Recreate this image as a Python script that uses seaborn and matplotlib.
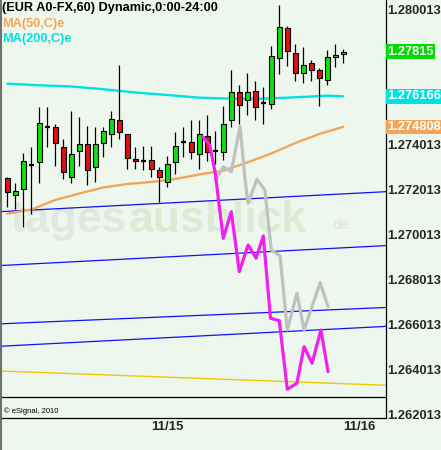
import numpy as np
import pandas as pd
import matplotlib
matplotlib.use("Agg")
import matplotlib.pyplot as plt
import matplotlib.transforms as mtransforms
from matplotlib.lines import Line2D
import seaborn as sns

# ------------------------------------------------------------------ data
hours = list(range(43))
opens = [1.272515, 1.271785, 1.272025, 1.273108, 1.273228, 1.274813, 1.274786, 1.273922,
         1.272587, 1.273718, 1.274029, 1.273005, 1.274074, 1.274475, 1.275098, 1.274475,
         1.273361, 1.273272, 1.273317, 1.272871, 1.272364, 1.273254, 1.274118, 1.274110,
         1.273588, 1.274390, 1.273740, 1.273686, 1.275098, 1.276345, 1.275989, 1.276403,
         1.275855, 1.275811, 1.277859, 1.279195, 1.278082, 1.277191, 1.277650, 1.277324,
         1.276879, 1.277903, 1.278037]
highs = [1.272586, 1.272319, 1.273629, 1.273896, 1.275677, 1.275677, 1.274933, 1.274279,
         1.275512, 1.275232, 1.274844, 1.274813, 1.274786, 1.275512, 1.277561, 1.274488,
         1.273896, 1.273954, 1.273954, 1.273005, 1.273508, 1.274590, 1.274813, 1.275111,
         1.275111, 1.275321, 1.274608, 1.275735, 1.277338, 1.276670, 1.277204, 1.276848,
         1.276594, 1.278407, 1.280232, 1.279297, 1.278496, 1.278375, 1.277783, 1.277414,
         1.278228, 1.278482, 1.278260]
lows = [1.271251, 1.271162, 1.270360, 1.270926, 1.272293, 1.273896, 1.273063, 1.272471,
        1.272293, 1.273063, 1.272230, 1.272364, 1.273477, 1.273896, 1.274279, 1.272943,
        1.272943, 1.272885, 1.272560, 1.271473, 1.272141, 1.272693, 1.273477, 1.273361,
        1.272943, 1.273299, 1.273130, 1.273330, 1.274786, 1.274947, 1.275347, 1.275098,
        1.274947, 1.275588, 1.277173, 1.277503, 1.276861, 1.276772, 1.276861, 1.275748,
        1.276683, 1.277485, 1.277663]
closes = [1.271892, 1.271937, 1.273272, 1.273108, 1.274964, 1.274813, 1.274074, 1.272783,
          1.273584, 1.274029, 1.272885, 1.274029, 1.274608, 1.275143, 1.274564, 1.273433,
          1.273272, 1.273272, 1.272916, 1.272560, 1.273139, 1.273940, 1.274118, 1.273673,
          1.274475, 1.273669, 1.273740, 1.274924, 1.276345, 1.275766, 1.276345, 1.275704,
          1.275855, 1.277948, 1.279239, 1.278197, 1.277191, 1.277547, 1.277351, 1.276968,
          1.277903, 1.277992, 1.278150]

ma50_x = [0, 3, 6, 9, 12, 15, 18, 21, 24, 27, 30, 33, 36, 39, 42]
ma50_y = [1.270939, 1.271126, 1.271549, 1.271838, 1.272106, 1.272261, 1.272351, 1.272484,
          1.272685, 1.272854, 1.273219, 1.273620, 1.274087, 1.274488, 1.274808]
ma200_x = [0, 4, 8, 12, 16, 20, 24, 28, 32, 36, 40, 42]
ma200_y = [1.276728, 1.276657, 1.276603, 1.276483, 1.276336, 1.276225, 1.276104, 1.276060,
           1.276060, 1.276122, 1.276193, 1.276166]

magenta_x = [24.4, 25.3, 26.0, 26.4, 27.0, 28.0, 29.0, 30.1, 31.1, 32.0, 32.9, 34.0, 35.0,
             36.2, 37.1, 38.1, 39.2, 40.1]
magenta_y = [1.274368, 1.273998, 1.272738, 1.271549, 1.269843, 1.271028, 1.268356, 1.269545,
             1.268953, 1.269946, 1.266281, 1.266174, 1.263119, 1.263387, 1.265016, 1.264277,
             1.265760, 1.263903]
gray_x = [26.0, 27.0, 28.0, 29.1, 29.7, 30.1, 31.2, 32.2, 33.0, 34.1, 35.0, 36.2, 37.1, 39.1, 40.1]
gray_y = [1.272440, 1.273032, 1.272809, 1.274822, 1.272529, 1.271402, 1.272471, 1.271994,
          1.269322, 1.269055, 1.265760, 1.267394, 1.265760, 1.267866, 1.266798]

# trend lines: price at left edge / right edge of plot
blue_left = [1.271028, 1.268628, 1.266032, 1.265034]
blue_right = [1.271919, 1.269518, 1.266762, 1.265920]
yellow_left, yellow_right = 1.263934, 1.263298
black_level = 1.262777

# (1.276013 and 1.278013 are hidden behind the value boxes in the reference)
ytick_values = [1.262013, 1.264013, 1.266013, 1.268013, 1.270013, 1.272013,
                1.274013, 1.280013]
xtick_pos = [18, 42]
xtick_labels = ["11/15", "11/16"]

last_price, ma200_last, ma50_last = 1.27815, 1.276166, 1.274808

# ------------------------------------------------------------------ style
sns.set_style("white")
plt.rcParams['font.family'] = ['Liberation Sans', 'DejaVu Sans']

BG = '#eef7ee'
GREEN = '#10e010'
RED = '#e01010'
ORANGE = '#f2a65c'
CYAN = '#00e2e2'

fig = plt.figure(figsize=(4.41, 4.5), dpi=100, facecolor=BG)
ax = fig.add_axes([0, 32 / 450, 386 / 441, 418 / 450], facecolor=BG)

XMIN, XMAX = -0.9125, 47.34
ax.set_xlim(XMIN, XMAX)
ax.set_ylim(1.26184, 1.280455)

# watermark
ax.text(0.026, 0.4457, "tages", transform=ax.transAxes, fontsize=32, fontweight='bold',
        color='#e1e7e1', va='baseline', ha='left', zorder=0.5)
ax.text(0.334, 0.4457, "ausblick", transform=ax.transAxes, fontsize=32, fontweight='bold',
        color='#dcecd4', va='baseline', ha='left', zorder=0.5)
ax.text(0.862, 0.462, "de", transform=ax.transAxes, fontsize=10, fontweight='bold',
        color='#e1e7e1', va='center', ha='left', zorder=0.5)

# straight lines
for l, r in zip(blue_left, blue_right):
    ax.plot([XMIN, XMAX], [l, r], color='#1010ff', lw=0.9, zorder=1)
ax.plot([XMIN, XMAX], [yellow_left, yellow_right], color='#f0c800', lw=1.0, zorder=1)
ax.axhline(black_level, color='black', lw=0.9, zorder=1)

# moving averages
ma50 = pd.DataFrame({'x': ma50_x, 'y': ma50_y})
ma200 = pd.DataFrame({'x': ma200_x, 'y': ma200_y})
sns.lineplot(data=ma50, x='x', y='y', ax=ax, color=ORANGE, lw=1.7, estimator=None, zorder=2)
sns.lineplot(data=ma200, x='x', y='y', ax=ax, color=CYAN, lw=1.7, estimator=None, zorder=2)

# candles
df = pd.DataFrame({'h': hours, 'o': opens, 'hi': highs, 'lo': lows, 'c': closes})
ax.vlines(df['h'], df['lo'], df['hi'], color='black', lw=0.9, zorder=3)
bw = 0.62
for _, r in df.iterrows():
    if abs(r['c'] - r['o']) < 1e-6:
        ax.hlines(r['o'], r['h'] - bw / 2, r['h'] + bw / 2, color='black', lw=1.6, zorder=4)
    else:
        col = GREEN if r['c'] > r['o'] else RED
        ax.bar(r['h'], abs(r['c'] - r['o']), bottom=min(r['o'], r['c']), width=bw,
               color=col, edgecolor='black', linewidth=0.8, zorder=4)

# projection patterns
gray = pd.DataFrame({'x': gray_x, 'y': gray_y})
mag = pd.DataFrame({'x': magenta_x, 'y': magenta_y})
sns.lineplot(data=gray, x='x', y='y', ax=ax, color='#c0c0c0', lw=2.3, estimator=None,
             sort=False, zorder=5)
sns.lineplot(data=mag, x='x', y='y', ax=ax, color='#f020f0', lw=2.3, estimator=None,
             sort=False, zorder=6)

# axes
for s in ['left', 'top']:
    ax.spines[s].set_visible(False)
for s in ['right', 'bottom']:
    ax.spines[s].set_color('black')
    ax.spines[s].set_linewidth(0.9)
ax.set_xlabel('')
ax.set_ylabel('')
ax.yaxis.tick_right()
ax.set_yticks(ytick_values)
ax.set_yticklabels([f"{v:.6f}" for v in ytick_values], fontweight='bold', fontsize=9.3)
ax.tick_params(axis='y', length=0, pad=1)
ax.set_xticks(xtick_pos)
ax.set_xticklabels(xtick_labels, fontweight='bold', fontsize=9.5, ha='left')
ax.tick_params(axis='x', direction='in', length=3, width=0.8, pad=2.5)

# highlighted price labels
trans = mtransforms.blended_transform_factory(ax.transAxes, ax.transData)
for val, txt, col in [(last_price, "1.27815", '#00dc00'), (ma200_last, "1.276166", CYAN),
                      (ma50_last, "1.274808", ORANGE)]:
    ax.text(1.004, val, txt, transform=trans, color='white', fontweight='bold', fontsize=9.3,
            va='center', ha='left', clip_on=False, zorder=10,
            bbox=dict(boxstyle='square,pad=0.1', facecolor=col, edgecolor='none'))

# header texts
fig.text(2 / 441, 1 - 8.5 / 450, "(EUR A0-FX,60) Dynamic,0:00-24:00", fontsize=9.2,
         fontweight='bold', color='black', va='center', ha='left')
fig.text(2 / 441, 1 - 24 / 450, "MA(50,C)e", fontsize=9.2, fontweight='bold',
         color=ORANGE, va='center', ha='left')
fig.text(2 / 441, 1 - 39 / 450, "MA(200,C)e", fontsize=9.2, fontweight='bold',
         color=CYAN, va='center', ha='left')
fig.text(4 / 441, 1 - 411 / 450, "© eSignal, 2010", fontsize=5.5, color='black',
         va='center', ha='left')

# left frame edge
fig.add_artist(Line2D([0.5 / 441, 0.5 / 441], [0, 1], transform=fig.transFigure,
                      color='#707070', lw=1.5))

fig.savefig("out.png", dpi=100, facecolor=BG)
